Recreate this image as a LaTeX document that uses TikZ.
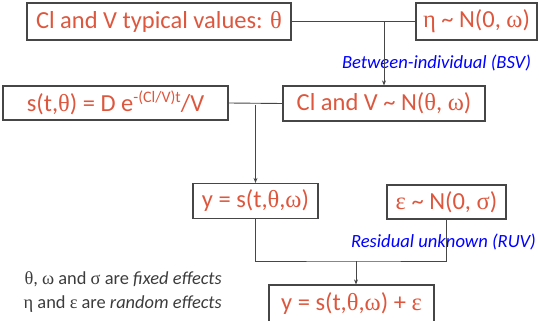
\documentclass[tikz,border=0pt]{standalone}
\usepackage{fontspec}
\setmainfont{Carlito}
\newfontfamily\grkfont{Liberation Serif}
\usetikzlibrary{arrows.meta}
\definecolor{BoxRed}{RGB}{221,87,62}
\definecolor{LineGray}{RGB}{70,70,70}
\definecolor{NoteBlue}{RGB}{0,0,255}
\definecolor{NoteGray}{RGB}{60,60,60}
\newcommand{\gk}[1]{{\grkfont #1}}
\newcommand{\tld}{\char`\~{}}
\tikzset{
  mbox/.style={draw=LineGray,line width=1.2pt,text=BoxRed,inner sep=0pt,
               font=\fontsize{24.5}{28}\selectfont},
  lnk/.style={LineGray,line width=0.9pt},
  arr/.style={-{Stealth[length=5pt,width=4pt]},LineGray,line width=0.9pt},
  vlabel/.style={text=NoteBlue,inner sep=0pt,font=\fontsize{18.6}{22}\selectfont\itshape},
}
\begin{document}
\begin{tikzpicture}[x=1pt,y=-1pt]
\useasboundingbox (0,0) rectangle (539,321);
% model boxes
\node[mbox,minimum width=264pt,minimum height=37pt] (typ) at (159,21.5) {Cl and V typical values: \gk{θ}};
\node[mbox,minimum width=121pt,minimum height=37pt] (eta) at (476.5,21.5) {\gk{η} \tld\ N(0, \gk{ω})};
\node[mbox,minimum width=225pt,minimum height=34pt] (pk) at (115.5,103) {s(t,\gk{θ}) = D e\raisebox{9pt}{\fontsize{16}{16}\selectfont -(Cl/V)t}/V};
\node[mbox,minimum width=202pt,minimum height=35pt] (par) at (384,103.5) {Cl and V \tld\ N(\gk{θ}, \gk{ω})};
\node[mbox,minimum width=125pt,minimum height=35pt] (ind) at (255.5,201) {y = s(t,\gk{θ},\gk{ω})};
\node[mbox,minimum width=119pt,minimum height=34pt] (eps) at (446.5,202) {\gk{ε} \tld\ N(0, \gk{σ})};
\node[mbox,minimum width=165pt,minimum height=38pt] (obs) at (351.5,304) {y = s(t,\gk{θ},\gk{ω}) + \gk{ε}};

% variability labels
\node[vlabel] (bsv) at (436.5,63) {Between-individual (BSV)};
\node[vlabel] (ruv) at (443.5,242) {Residual unknown (RUV)};

% note
\node[text=NoteGray,inner sep=0pt,font=\fontsize{18.4}{24}\selectfont,align=right,anchor=east] (note) at (222,292)
  {\gk{θ}, \gk{ω} and \gk{σ} are \textit{fixed effects}\\\gk{η} and \gk{ε} are \textit{random effects}};

% connectors
\draw[lnk] (typ.east) -- (eta.west);
\draw[arr] (par.north |- typ.east) -- (par.north);
\draw[lnk] (pk.east) -- (par.west);
\draw[arr] (ind.north |- pk.east) ++(0,2) -- (ind.north);
\coordinate (mrg) at (356,261);
\draw[lnk] (ind.south) |- (mrg) -| (eps.south);
\draw[arr] (mrg) -- (mrg |- obs.north);
\end{tikzpicture}
\end{document}
